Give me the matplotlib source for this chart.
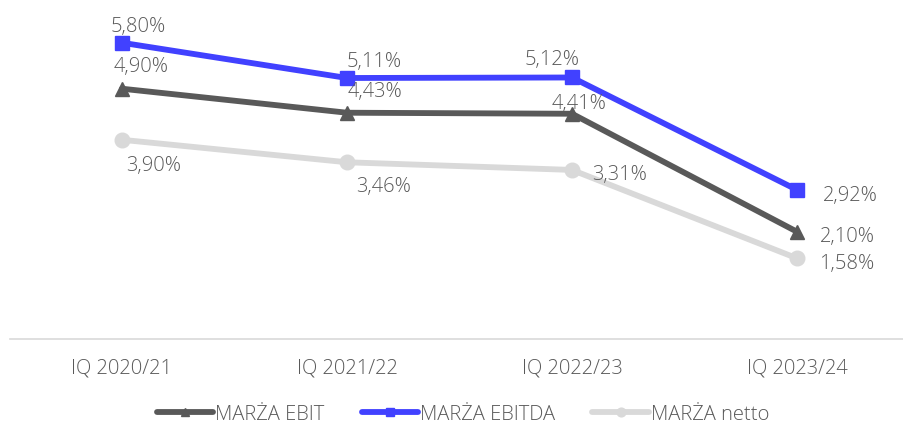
import numpy as np
import matplotlib
matplotlib.use("Agg")
import matplotlib.pyplot as plt

plt.rcParams['font.family'] = ['Open Sans', 'DejaVu Sans']
plt.rcParams['font.weight'] = 'light'

categories = ["IQ 2020/21", "IQ 2021/22", "IQ 2022/23", "IQ 2023/24"]
marza_ebit = [4.90, 4.43, 4.41, 2.10]
marza_ebitda = [5.80, 5.11, 5.12, 2.92]
marza_netto = [3.90, 3.46, 3.31, 1.58]

# label offsets in pixels (dx, dy) from each point
off_ebit = [(19, 25), (28, 24), (7, 13), (50, -2)]
off_ebitda = [(16, 19), (27, 19), (-20, 21), (53, -3)]
off_netto = [(32, -23), (37, -21), (48, -2), (50, -2)]

TXT = "#595959"

fig = plt.figure(figsize=(9.04, 4.27), dpi=100)
ax = fig.add_axes([9.5 / 904, 87 / 427, 900 / 904, 332 / 427])
x = np.arange(len(categories))

series = [
    ("MARŻA EBIT", marza_ebit, "#595959", "^", off_ebit),
    ("MARŻA EBITDA", marza_ebitda, "#4141FF", "s", off_ebitda),
    ("MARŻA netto", marza_netto, "#D9D9D9", "o", off_netto),
]
# draw netto first so darker lines sit on top
for lab, vals, col, mk, offs in [series[2], series[0], series[1]]:
    ax.plot(x, vals, color=col, lw=4.2, marker=mk, ms=10.5, label=lab,
            solid_capstyle="round")
    for xi, v, (dx, dy) in zip(x, vals, offs):
        ax.annotate(f"{v:.2f}%".replace(".", ","), (xi, v), xytext=(dx, dy),
                    textcoords="offset pixels", ha="center",
                    va="center_baseline", fontsize=14.5, color=TXT)

ax.set_xlim(-0.5, 3.5)
ax.set_ylim(0, 6.5)
ax.set_yticks([])
ax.set_xticks(x)
ax.set_xticklabels(categories, fontsize=14.5, color=TXT)
ax.tick_params(axis="x", length=0, pad=13)
for s in ["top", "right", "left"]:
    ax.spines[s].set_visible(False)
ax.spines["bottom"].set_color("#D9D9D9")
ax.spines["bottom"].set_linewidth(1.2)

h, l = ax.get_legend_handles_labels()
order = [l.index(n) for n in ["MARŻA EBIT", "MARŻA EBITDA", "MARŻA netto"]]
fig.legend([h[i] for i in order], [l[i] for i in order], loc="center",
           bbox_to_anchor=(463 / 904, 1 - 415 / 427), ncol=3, frameon=False,
           fontsize=14.5, handlelength=2.8, handletextpad=0.1,
           columnspacing=1.85, labelcolor=TXT, markerscale=0.6)

fig.savefig("out.png", dpi=100)
